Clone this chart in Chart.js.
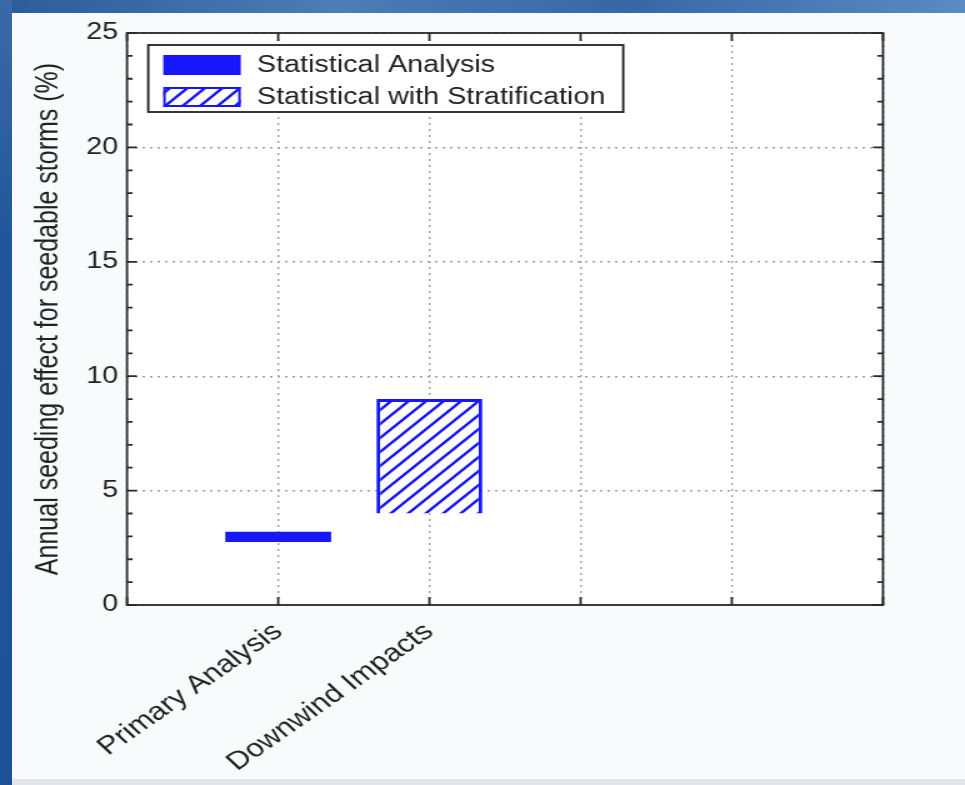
<!DOCTYPE html>
<html>
<head>
<meta charset="utf-8">
<title>Annual seeding effect</title>
<script src="https://cdn.jsdelivr.net/npm/chart.js@4.4.0/dist/chart.umd.min.js"></script>
<style>
    html, body { margin: 0; padding: 0; }
    body {
        width: 965px; height: 785px; overflow: hidden; position: relative;
        background: #f9fafb;
    }
    .band-top {
        position: absolute; left: 0; top: 0; width: 965px; height: 13px;
        background: linear-gradient(90deg, #2c5b99, #4d7db7 35%, #3767a6 65%, #5b8bc3);
    }
    .band-left {
        position: absolute; left: 0; top: 0; width: 12px; height: 785px;
        background: linear-gradient(180deg, #3a6aa8, #22569c 30%, #1d5096);
    }
    .band-bottom {
        position: absolute; left: 12px; top: 779px; width: 953px; height: 6px;
        background: #e2e6ec;
    }
    /* the source picture is stretched sideways, so the chart is drawn narrow and widened */
    #wrap {
        position: absolute; left: 0; top: 0; width: 772px; height: 785px;
        transform: scaleX(1.25); transform-origin: 0 0;
    }
</style>
</head>
<body>
<div class="band-top"></div>
<div class="band-left"></div>
<div class="band-bottom"></div>
<div id="wrap"><canvas id="chart" width="772" height="785"></canvas></div>
<script>
const categories = ['', 'Primary Analysis', 'Downwind Impacts', '', '', ''];
const statisticalAnalysis = [null, [2.75, 3.2], null, null, null, null];
const statisticalStratified = [null, null, [4, 9], null, null, null];
const yTicks = [0, 5, 10, 15, 20, 25];

const FONT = '"Liberation Sans", Arial, Helvetica, sans-serif';
const BLUE = '#1616ff';

function makeHatch(color) {
    const s = 14;
    const c = document.createElement('canvas');
    c.width = s;
    c.height = s;
    const g = c.getContext('2d');
    g.fillStyle = '#ffffff';
    g.fillRect(0, 0, s, s);
    g.strokeStyle = color;
    g.lineWidth = 2.4;
    g.beginPath();
    g.moveTo(-s / 2, s / 2); g.lineTo(s / 2, -s / 2);
    g.moveTo(0, s); g.lineTo(s, 0);
    g.moveTo(s / 2, s * 1.5); g.lineTo(s * 1.5, s / 2);
    g.stroke();
    return g.createPattern(c, 'repeat');
}

// white plot background
const plotBackground = {
    id: 'plotBackground',
    beforeDraw(chart) {
        const { ctx, chartArea: a } = chart;
        ctx.save();
        ctx.fillStyle = '#ffffff';
        ctx.fillRect(a.left, a.top, a.right - a.left, a.bottom - a.top);
        ctx.restore();
    }
};

// box around the axes with inward ticks, like matlab
const matlabFrame = {
    id: 'matlabFrame',
    afterDatasetsDraw(chart) {
        const { ctx, chartArea: a, scales: { x, y } } = chart;
        ctx.save();
        ctx.strokeStyle = '#2a2a2a';
        ctx.lineWidth = 1.8;
        ctx.strokeRect(a.left, a.top, a.right - a.left, a.bottom - a.top);
        ctx.beginPath();
        for (let v = y.min; v <= y.max; v++) {
            const py = y.getPixelForValue(v);
            const len = v % 5 === 0 ? 8 : 4.5;
            ctx.moveTo(a.left, py); ctx.lineTo(a.left + len, py);
            ctx.moveTo(a.right, py); ctx.lineTo(a.right - len, py);
        }
        x.ticks.forEach((t, i) => {
            const px = x.getPixelForTick(i);
            ctx.moveTo(px, a.bottom); ctx.lineTo(px, a.bottom - 8);
            ctx.moveTo(px, a.top); ctx.lineTo(px, a.top + 8);
        });
        ctx.stroke();
        ctx.restore();
    }
};

// legend box in the upper left corner of the axes
const legendBox = {
    id: 'legendBox',
    afterDraw(chart) {
        const { ctx, chartArea: a } = chart;
        const bx = a.left + 17, by = a.top + 12, bw = 380, bh = 67;
        ctx.save();
        ctx.fillStyle = '#ffffff';
        ctx.fillRect(bx, by, bw, bh);
        ctx.strokeStyle = '#222222';
        ctx.lineWidth = 1.8;
        ctx.strokeRect(bx, by, bw, bh);
        chart.data.datasets.forEach((ds, i) => {
            const ry = by + 10 + i * 32;
            ctx.fillStyle = ds.backgroundColor;
            ctx.fillRect(bx + 12, ry, 62, 20);
            if (ds.borderWidth) {
                ctx.strokeStyle = ds.borderColor;
                ctx.lineWidth = 2;
                ctx.strokeRect(bx + 13, ry + 1, 60, 18);
            }
            ctx.fillStyle = '#222222';
            ctx.font = '23px ' + FONT;
            ctx.textBaseline = 'middle';
            ctx.textAlign = 'left';
            ctx.fillText(ds.label, bx + 87, ry + 11);
        });
        ctx.restore();
    }
};

const canvas = document.getElementById('chart');
const hatch = makeHatch(BLUE);

new Chart(canvas, {
    type: 'bar',
    data: {
        labels: categories,
        datasets: [{
            label: 'Statistical Analysis',
            data: statisticalAnalysis,
            backgroundColor: BLUE,
            borderWidth: 0
        }, {
            label: 'Statistical with Stratification',
            data: statisticalStratified,
            backgroundColor: hatch,
            borderColor: BLUE,
            borderWidth: 3
        }]
    },
    options: {
        responsive: false,
        animation: false,
        layout: {
            padding: { left: 20, right: 65.6, top: 33, bottom: 0 }
        },
        datasets: {
            bar: { grouped: false, barPercentage: 0.7, categoryPercentage: 1 }
        },
        plugins: {
            legend: { display: false },
            tooltip: { enabled: false }
        },
        scales: {
            x: {
                type: 'category',
                offset: false,
                grid: { offset: false, color: '#a0a0a0', lineWidth: 1.4, drawTicks: false },
                border: { display: false, dash: [2, 4] },
                ticks: {
                    autoSkip: false,
                    maxRotation: 41,
                    minRotation: 41,
                    padding: 12,
                    color: '#222222',
                    font: { family: FONT, size: 25 }
                },
                afterFit: scale => { scale.height = 180; }
            },
            y: {
                min: 0,
                max: 25,
                afterBuildTicks: scale => {
                    scale.ticks = yTicks.map(v => ({ value: v }));
                },
                grid: { color: '#a0a0a0', lineWidth: 1.4, drawTicks: false },
                border: { display: false, dash: [2, 4] },
                ticks: {
                    padding: 7,
                    color: '#222222',
                    font: { family: FONT, size: 23 }
                },
                title: {
                    display: true,
                    text: 'Annual seeding effect for seedable storms (%)',
                    color: '#222222',
                    font: { family: FONT, size: 25 },
                    padding: { top: 4, bottom: 4 }
                },
                afterFit: scale => { scale.width = 81.6; }
            }
        }
    },
    plugins: [plotBackground, matlabFrame, legendBox]
});
</script>
</body>
</html>
